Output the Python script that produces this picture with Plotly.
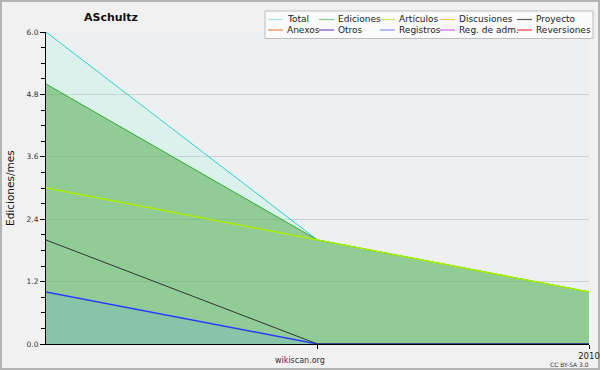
import plotly.graph_objects as go

# ---------------- data ----------------
x_pos = [0, 1, 2]
tick_vals = [1, 2]
tick_text = ["", "2010"]

total = [6.0, 2.0, 1.0]
ediciones = [5.0, 2.0, 1.0]
articulos = [3.0, 2.0, 1.0]
proyecto = [2.0, 0.0, 0.0]
registros = [1.0, 0.0, 0.0]

legend_names = ["Total", "Ediciones", "Artículos", "Discusiones", "Proyecto",
                "Anexos", "Otros", "Registros", "Reg. de adm.", "Reversiones"]
legend_colors = ["#a6e3e3", "#86c886", "#c8ec6a", "#eccb5a", "#606060",
                 "#ec8a4a", "#7a48cc", "#8494ec", "#c664da", "#ea4444"]

# ---------------- layout geometry ----------------
W, H = 600, 370
ML, MR, MT, MB = 46, 11, 32, 26
PW, PH = W - ML - MR, H - MT - MB


def px(xpix):
    return (xpix - ML) / PW


def py(ypix):
    return (H - MB - ypix) / PH


fig = go.Figure()

fig.add_trace(go.Scatter(x=x_pos, y=total, mode="lines", name="Total",
                         line=dict(color="#33cccc", width=1),
                         fill="tozeroy", fillcolor="rgba(138,254,216,0.2)"))
fig.add_trace(go.Scatter(x=x_pos, y=ediciones, mode="lines", name="Ediciones",
                         line=dict(color="#33a833", width=1),
                         fill="tozeroy", fillcolor="rgba(72,166,68,0.5)"))
fig.add_trace(go.Scatter(x=x_pos, y=registros, mode="lines", name="Registros",
                         line=dict(color="#2a3cff", width=1.5),
                         fill="tozeroy", fillcolor="rgba(100,164,242,0.2)"))
fig.add_trace(go.Scatter(x=x_pos, y=proyecto, mode="lines", name="Proyecto",
                         line=dict(color="#333333", width=1)))
fig.add_trace(go.Scatter(x=x_pos, y=articulos, mode="lines", name="Artículos",
                         line=dict(color="#aaee00", width=1.5)))

font_family = "DejaVu Sans"

# ----- manual legend -----
col_x = [268, 319, 380, 440, 517]
row_y = [19.5, 30]
shapes = []
annotations = []
shapes.append(dict(type="rect", xref="paper", yref="paper",
                   x0=px(265), x1=px(593), y0=py(11), y1=py(38.5),
                   fillcolor="#fafafa", line=dict(color="#bdbdbd", width=1),
                   layer="above"))
for i, (name, col) in enumerate(zip(legend_names, legend_colors)):
    r, c = divmod(i, 5)
    x0 = col_x[c]
    y0 = row_y[r]
    shapes.append(dict(type="line", xref="paper", yref="paper",
                       x0=px(x0), x1=px(x0 + 15), y0=py(y0), y1=py(y0),
                       line=dict(color=col, width=1.2), layer="above"))
    annotations.append(dict(text=name, xref="paper", yref="paper",
                            x=px(x0 + 17), y=py(y0), xanchor="left", yanchor="middle",
                            showarrow=False,
                            font=dict(family=font_family, size=9, color="#222222")))

# frame around whole picture
shapes.append(dict(type="rect", xref="paper", yref="paper",
                   x0=px(1), x1=px(599), y0=py(369), y1=py(1),
                   line=dict(color="#b4b4b4", width=2), layer="below"))

annotations.append(dict(text="Ediciones/mes", xref="paper", yref="paper",
                        x=px(10), y=0.5, textangle=-90, showarrow=False,
                        xanchor="center", yanchor="middle",
                        font=dict(family=font_family, size=10.5, color="#111111")))
annotations.append(dict(text="wikiscan.org", xref="paper", yref="paper",
                        x=px(300), y=py(360), showarrow=False,
                        xanchor="center", yanchor="middle",
                        font=dict(family=font_family, size=8, color="#333333")))
annotations.append(dict(text="CC BY-SA 3.0", xref="paper", yref="paper",
                        x=px(591), y=py(364), showarrow=False,
                        xanchor="right", yanchor="middle",
                        font=dict(family=font_family, size=6, color="#333333")))

fig.update_layout(
    width=W, height=H,
    margin=dict(l=ML, r=MR, t=MT, b=MB, pad=0, autoexpand=False),
    paper_bgcolor="#f1f1f1",
    plot_bgcolor="#eeeff1",
    showlegend=False,
    title=dict(text="<b>ASchultz</b>", x=111 / W, xanchor="center",
               y=1 - 17 / H, yanchor="middle", xref="container", yref="container",
               font=dict(family=font_family, size=11, color="#111111")),
    shapes=shapes,
    annotations=annotations,
    xaxis=dict(range=[0, 2], tickmode="array", tickvals=tick_vals, ticktext=tick_text,
               showgrid=False, zeroline=False, showline=True, linecolor="#000000",
               linewidth=1, ticks="outside", ticklen=4, tickcolor="#000000",
               tickfont=dict(family=font_family, size=8.5, color="#222222"),
               automargin=False, fixedrange=True),
    yaxis=dict(range=[0, 6], tick0=0, dtick=1.2, tickformat=".1f",
               showgrid=True, gridcolor="#d0d0d0", gridwidth=1,
               zeroline=False, showline=True, linecolor="#000000", linewidth=1,
               ticks="outside", ticklen=5, tickcolor="#000000",
               minor=dict(dtick=0.3, ticks="outside", ticklen=4, tickcolor="#000000",
                          showgrid=False),
               tickfont=dict(family=font_family, size=7.5, color="#333333"),
               automargin=False, fixedrange=True),
)

fig.write_html("out.html", config={"displayModeBar": False},
               post_script="document.body.style.margin='0';document.body.style.overflow='hidden';")
